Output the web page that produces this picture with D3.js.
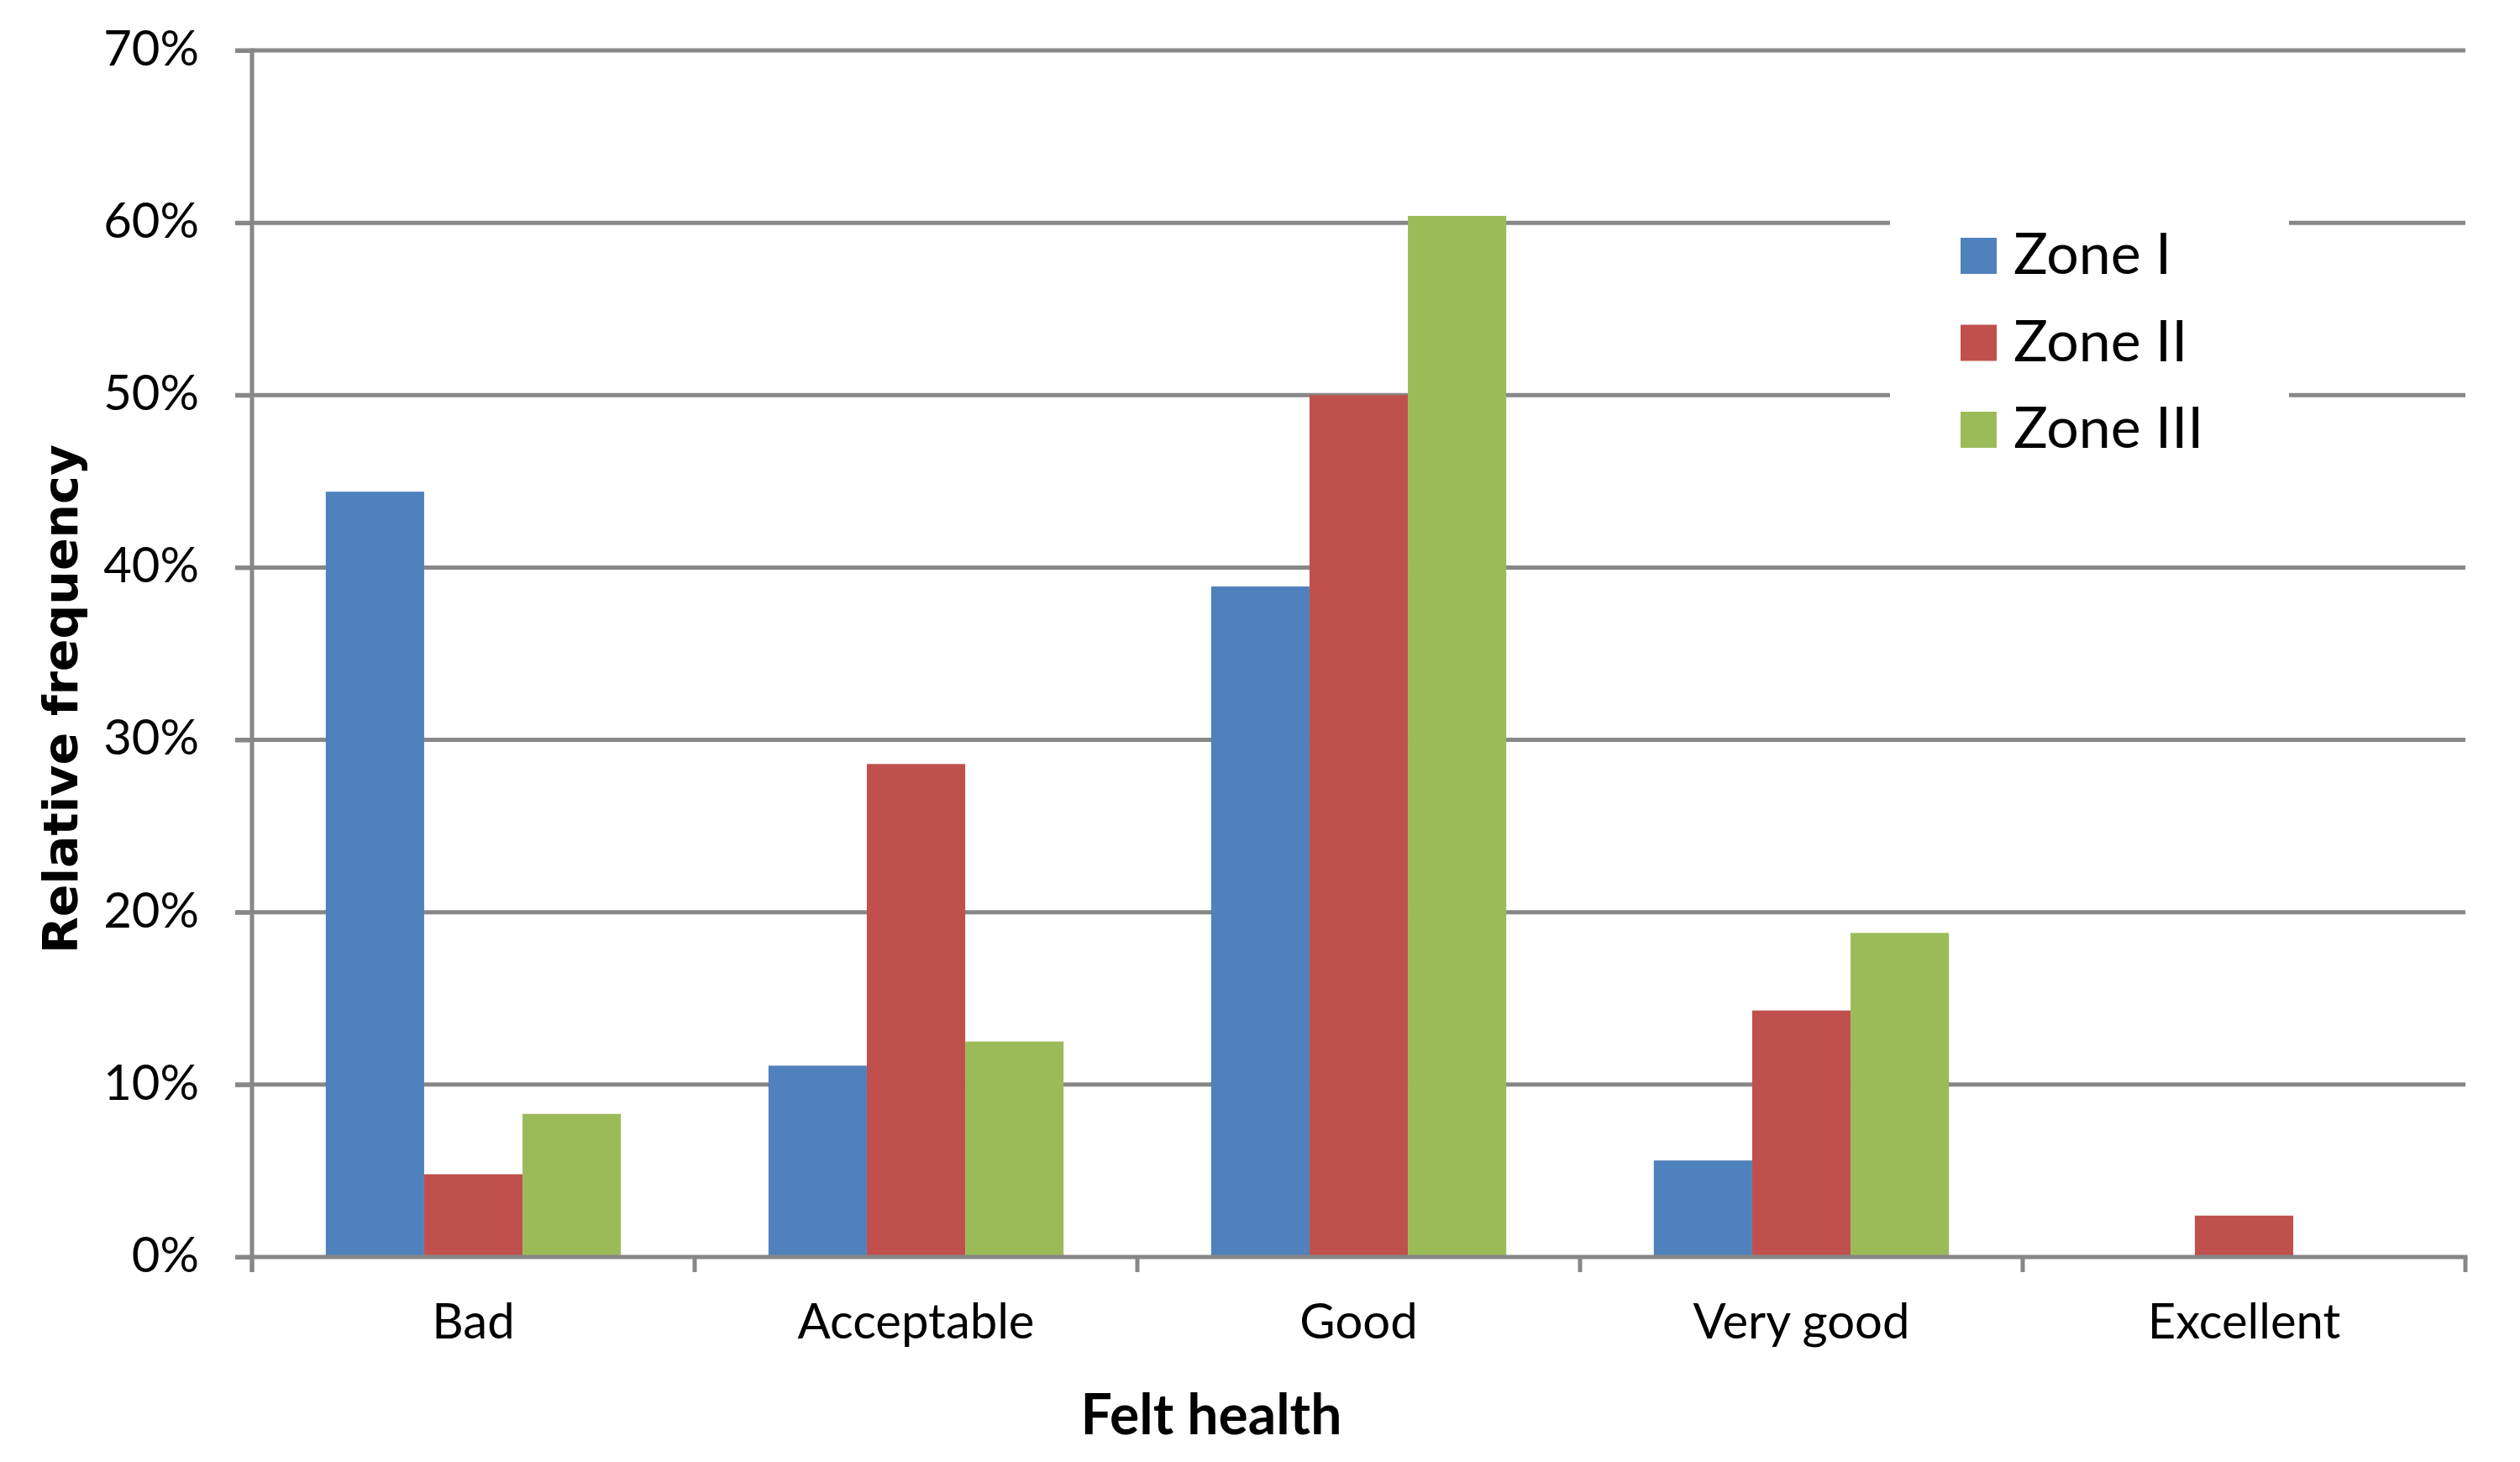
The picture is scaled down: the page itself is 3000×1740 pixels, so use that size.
<!DOCTYPE html>
<html>
<head>
<meta charset="utf-8"/>
<title>Felt health</title>
<script src="https://cdn.jsdelivr.net/npm/d3@7"></script>
<style>
html, body {
    margin: 0;
    padding: 0;
    background: #ffffff;
}
text {
    font-family: Lato, "Open Sans", sans-serif;
}
</style>
</head>
<body>
<svg id="chart"></svg>
<script>

// Data (percent).
var categories = ["Bad", "Acceptable", "Good", "Very good", "Excellent"];
var zones = ["Zone I", "Zone II", "Zone III"];
var zone1 = [44.4, 11.1, 38.9, 5.6, 0];
var zone2 = [4.8, 28.6, 50.0, 14.3, 2.4];
var zone3 = [8.3, 12.5, 60.4, 18.8, 0];
var yTicks = [0, 10, 20, 30, 40, 50, 60, 70];
var colors = ["#4f81bd", "#c0504d", "#9bbb59"];

var series = [zone1, zone2, zone3];

const W = 3000, H = 1740;
const plotLeft = 300, plotRight = 2935, plotTop = 60, plotBottom = 1496;
const gridColor = "#878787";

var svg = d3.select("#chart")
    .attr("width", W)
    .attr("height", H);

// Scales.
var x = d3.scaleBand().domain(categories).range([plotLeft, plotRight]).paddingInner(0).paddingOuter(0);
var y = d3.scaleLinear().domain([0, 70]).range([plotBottom, plotTop]);
// Excel style: gap width 150% -> 3 bars + 1.5 bar gap per category.
var x1 = d3.scaleBand().domain(zones)
    .range([x.bandwidth() * 0.75 / 4.5, x.bandwidth() * 3.75 / 4.5]);

// Gridlines (not the 0 line, that's the axis).
svg.append("g")
    .selectAll("line")
    .data(yTicks.filter(d => d > 0))
    .join("line")
    .attr("x1", plotLeft - 20)
    .attr("x2", plotRight)
    .attr("y1", d => y(d))
    .attr("y2", d => y(d))
    .attr("stroke", gridColor)
    .attr("stroke-width", 5);

// Bars.
var groups = svg.append("g")
    .selectAll("g")
    .data(series)
    .join("g")
    .attr("fill", (d, i) => colors[i]);

groups.selectAll("rect")
    .data((d, i) => d.map((v, j) => ({cat: categories[j], zone: zones[i], v: v})))
    .join("rect")
    .attr("x", d => x(d.cat) + x1(d.zone))
    .attr("width", x1.bandwidth())
    .attr("y", d => y(d.v))
    .attr("height", d => y(0) - y(d.v));

// Y axis.
var yAxis = svg.append("g")
    .attr("transform", "translate(" + plotLeft + ",0)")
    .call(d3.axisLeft(y).tickValues(yTicks).tickFormat(d => d + "%").tickSize(20).tickPadding(43));
yAxis.select(".domain").remove();
yAxis.selectAll(".tick line").attr("stroke", gridColor).attr("stroke-width", 5);
yAxis.selectAll(".tick text")
    .attr("fill", "#000")
    .style("font-size", "58px")
    .attr("dy", "0.3em");
yAxis.append("line")
    .attr("x1", 0).attr("x2", 0)
    .attr("y1", plotTop - 2.5).attr("y2", plotBottom + 18)
    .attr("stroke", gridColor)
    .attr("stroke-width", 5);

// X axis: line, ticks at category boundaries, labels at centres.
var xAxis = svg.append("g");
xAxis.append("line")
    .attr("x1", plotLeft - 20).attr("x2", plotRight + 2.5)
    .attr("y1", plotBottom).attr("y2", plotBottom)
    .attr("stroke", gridColor)
    .attr("stroke-width", 5);
xAxis.selectAll(".tk")
    .data(categories.map(c => x(c)).concat([plotRight]))
    .join("line")
    .attr("class", "tk")
    .attr("x1", d => d).attr("x2", d => d)
    .attr("y1", plotBottom).attr("y2", plotBottom + 18)
    .attr("stroke", gridColor)
    .attr("stroke-width", 5);
xAxis.selectAll(".lbl")
    .data(categories)
    .join("text")
    .attr("class", "lbl")
    .attr("x", d => x(d) + x.bandwidth() / 2)
    .attr("y", 1593)
    .attr("text-anchor", "middle")
    .style("font-size", "58px")
    .text(d => d);

// Axis titles.
svg.append("text")
    .attr("x", 1442)
    .attr("y", 1707)
    .attr("text-anchor", "middle")
    .style("font-size", "66px")
    .style("font-weight", "bold")
    .text("Felt health");

svg.append("text")
    .attr("transform", "translate(92,832) rotate(-90)")
    .attr("text-anchor", "middle")
    .style("font-family", "'DejaVu Sans', Verdana, sans-serif")
    .style("font-size", "57px")
    .style("font-weight", "bold")
    .text("Relative frequency");

// Legend with white background over the gridlines.
var legend = svg.append("g");
legend.append("rect")
    .attr("x", 2250).attr("y", 220)
    .attr("width", 475).attr("height", 340)
    .attr("fill", "#fff");
var li = legend.selectAll(".item")
    .data(zones)
    .join("g")
    .attr("class", "item")
    .attr("transform", (d, i) => "translate(2334," + (283 + i * 103.5) + ")");
li.append("rect")
    .attr("width", 43).attr("height", 43)
    .attr("fill", (d, i) => colors[i]);
li.append("text")
    .attr("x", 63)
    .attr("y", 43)
    .style("font-size", "68px")
    .text(d => d);

</script>
</body>
</html>
